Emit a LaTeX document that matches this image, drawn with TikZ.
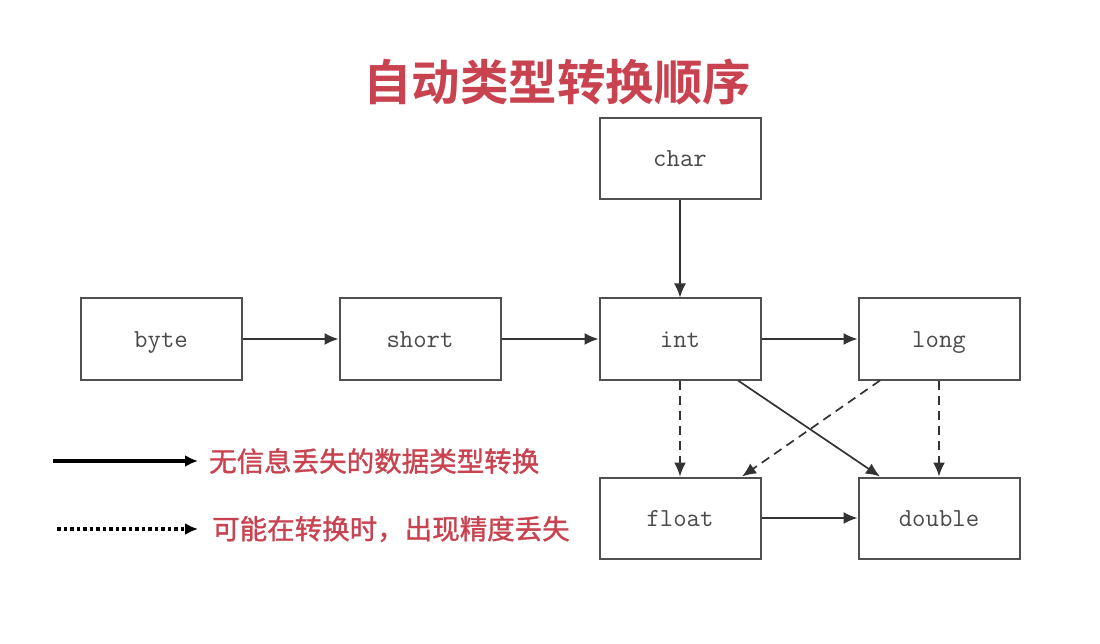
\documentclass[tikz,border=0pt]{standalone}
\usepackage{fontspec}
\newfontfamily\cjk[FakeBold=1.2]{Noto Sans CJK SC}
\newfontfamily\cjkbold{Noto Sans CJK SC Bold}
\usetikzlibrary{arrows.meta}
\definecolor{titlered}{HTML}{C8434F}
\definecolor{boxline}{HTML}{505050}
\definecolor{txtgray}{HTML}{4A4A4A}
\tikzset{
  typebox/.style={draw=boxline, line width=2pt, minimum width=161pt, minimum height=81pt, inner sep=0pt, text height=18pt, text depth=2pt, font=\ttfamily\fontsize{26}{26}\selectfont, text=txtgray},
  conv/.style={draw=black!80, line width=1.7pt, -{Latex[length=14pt,width=12pt]}},
  lossy/.style={conv, dash pattern=on 9pt off 6pt},
  legendtxt/.style={font=\cjk\fontsize{27.5}{27.5}\selectfont, text=titlered, anchor=west, inner sep=0pt}
}
\begin{document}
\begin{tikzpicture}[x=1pt,y=-1pt]
\useasboundingbox (0,0) rectangle (1100,644);
\fill[white] (0,0) rectangle (1100,644);
\node[font=\cjkbold\fontsize{48.5}{48.5}\selectfont, text=titlered, inner sep=0pt] (title) at (557,82) {自动类型转换顺序};
\node[typebox] (char) at (680,159) {char};
\node[typebox] (byte) at (161,339) {byte};
\node[typebox] (short) at (420,339) {short};
\node[typebox] (int) at (680,339) {int};
\node[typebox] (long) at (939,339) {long};
\node[typebox] (float) at (680,518) {float};
\node[typebox] (double) at (939,518) {double};
\draw[conv] (char) -- (int);
\draw[conv] (byte) -- (short);
\draw[conv] (short) -- (int);
\draw[conv] (int) -- (long);
\draw[conv] (float) -- (double);
\draw[lossy] (int) -- (float);
\draw[lossy] (long) -- (double);
\draw[conv] ([xshift=58pt]int.south) -- ([xshift=-59pt]double.north);
\draw[lossy] ([xshift=-59pt]long.south) -- ([xshift=62pt]float.north);
\coordinate (l1a) at (53,461);
\coordinate (l1b) at (198,461);
\coordinate (l2a) at (57,529);
\coordinate (l2b) at (198,529);
\draw[line width=3.5pt, -{Latex[length=13pt,width=12pt]}] (l1a) -- (l1b);
\draw[line width=3.5pt, dash pattern=on 3.5pt off 3pt, -{Latex[length=13pt,width=12pt]}] (l2a) -- (l2b);
\node[legendtxt] (leg1) at (209,461) {无信息丢失的数据类型转换};
\node[legendtxt] (leg2) at (212,529) {可能在转换时，出现精度丢失};
\end{tikzpicture}
\end{document}
